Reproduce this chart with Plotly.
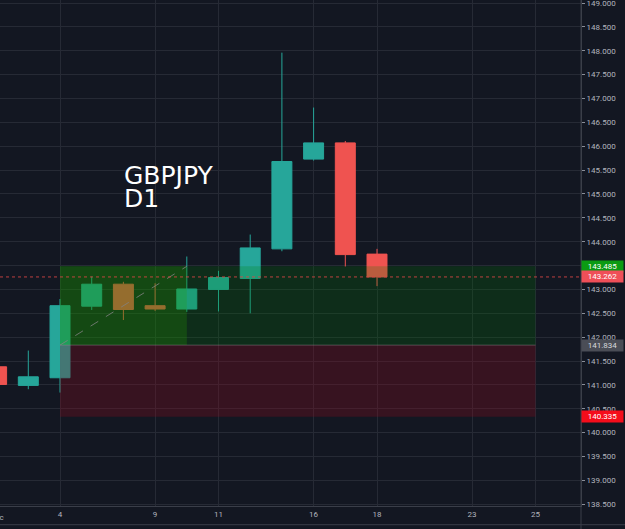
import plotly.graph_objects as go

# ---- data ----
dates = ["2019-12-02", "2019-12-03", "2019-12-04", "2019-12-05", "2019-12-06",
         "2019-12-09", "2019-12-10", "2019-12-11", "2019-12-12", "2019-12-13",
         "2019-12-16", "2019-12-17", "2019-12-18"]
opens = [141.38, 140.99, 141.15, 142.65, 143.11, 142.66, 142.59, 143.00, 143.23, 143.85, 145.73, 146.07, 143.74]
highs = [141.50, 141.72, 142.80, 143.27, 143.16, 143.13, 143.69, 143.39, 144.15, 147.96, 146.81, 146.11, 143.85]
lows = [140.95, 140.91, 140.84, 142.57, 142.36, 142.55, 142.53, 142.54, 142.50, 143.80, 145.70, 143.48, 143.07]
closes = [141.01, 141.17, 142.66, 143.11, 142.58, 142.59, 143.01, 143.25, 143.87, 145.68, 146.07, 143.73, 143.262]

tick_dates = ["2019-12-04", "2019-12-09", "2019-12-11", "2019-12-16",
              "2019-12-18", "2019-12-23", "2019-12-25"]
tick_text = ["4", "9", "11", "16", "18", "23", "25"]
month_label = "Dec"

zone_top = 143.485
zone_mid = 141.834
zone_bottom = 140.335
current_price = 143.262
zone_start = "2019-12-04"
zone_bright_end = "2019-12-10"
zone_end = "2019-12-25"

x_range = ["2019-12-02 02:34", "2019-12-26 10:27"]
y_range = [138.464, 149.063]

BG = "#131722"
GRID = "#262a35"
UP = "#26a69a"
DOWN = "#ef5350"

fig = go.Figure()
fig.add_trace(go.Candlestick(
    x=dates, open=opens, high=highs, low=lows, close=closes,
    increasing=dict(line=dict(color=UP, width=1), fillcolor=UP),
    decreasing=dict(line=dict(color=DOWN, width=1), fillcolor=DOWN),
    showlegend=False, hoverinfo="skip",
))

shapes = [
    # zones
    dict(type="rect", xref="x", yref="y", x0=zone_start, x1=zone_end, y0=zone_mid, y1=zone_top,
         fillcolor="rgba(0,128,0,0.22)", line=dict(width=0), layer="above"),
    dict(type="rect", xref="x", yref="y", x0=zone_start, x1=zone_bright_end, y0=zone_mid, y1=zone_top,
         fillcolor="rgba(40,160,0,0.25)", line=dict(width=0), layer="above"),
    dict(type="rect", xref="x", yref="y", x0=zone_start, x1=zone_end, y0=zone_bottom, y1=zone_mid,
         fillcolor="rgba(140,10,30,0.30)", line=dict(width=0), layer="above"),
    dict(type="line", xref="x", yref="y", x0=zone_start, x1=zone_end, y0=zone_mid, y1=zone_mid,
         line=dict(color="rgba(140,140,140,0.45)", width=1), layer="above"),
    # diagonal dashed
    dict(type="line", xref="x", yref="y", x0=zone_start, x1=zone_bright_end, y0=zone_mid, y1=zone_top,
         line=dict(color="rgba(130,130,130,0.8)", width=1, dash="dash"), layer="above"),
    # current price dotted
    dict(type="line", xref="paper", yref="y", x0=0, x1=1, y0=current_price, y1=current_price,
         line=dict(color="rgba(220,70,70,0.85)", width=1, dash="dot"), layer="above"),
    # frame lines
    dict(type="line", xref="paper", yref="paper", x0=1, x1=1, y0=-0.05, y1=1,
         line=dict(color="#3a3e49", width=1)),
    dict(type="line", xref="paper", yref="paper", x0=0, x1=1.08, y0=-0.037, y1=-0.037,
         line=dict(color="#3a3e49", width=1)),
]

annotations = [
    dict(text="GBPJPY", xref="paper", yref="paper", x=123 / 581, y=1 - 175 / 506,
         xanchor="left", yanchor="middle", showarrow=False, borderpad=0,
         font=dict(family="DejaVu Sans", size=25, color="#ffffff")),
    dict(text="D1", xref="paper", yref="paper", x=123 / 581, y=1 - 199 / 506,
         xanchor="left", yanchor="middle", showarrow=False, borderpad=0,
         font=dict(family="DejaVu Sans", size=25, color="#ffffff")),
    dict(text=month_label, xref="paper", yref="paper", x=-3.4 / 581, y=-11 / 506,
         xanchor="center", yanchor="middle", showarrow=False,
         font=dict(family="Roboto", size=8, color="#b2b5be")),
]

labels = [(zone_top, "#0b9b12", "#ffffff"),
          (current_price, "#ef4f58", "#ffffff"),
          (zone_mid, "#4a4d56", "#d6d8de"),
          (zone_bottom, "#f50d1b", "#ffffff")]
for val, bg, fg in labels:
    annotations.append(dict(
        text="%.3f" % val, xref="paper", yref="y", x=1, y=val,
        xanchor="left", yanchor="middle", showarrow=False,
        bgcolor=bg, width=41, height=11, borderpad=0, align="center",
        font=dict(family="Roboto", size=8, color=fg),
    ))

fig.update_layout(
    width=625, height=529,
    margin=dict(l=0, r=44, t=0, b=23),
    paper_bgcolor=BG, plot_bgcolor=BG,
    shapes=shapes, annotations=annotations,
    boxgap=0.1, boxgroupgap=0.3,
    xaxis=dict(
        type="date", range=x_range,
        rangebreaks=[dict(bounds=["sat", "mon"])],
        rangeslider=dict(visible=False),
        tickvals=tick_dates, ticktext=tick_text,
        showgrid=True, gridcolor=GRID, gridwidth=1,
        zeroline=False, showline=True, linecolor="#3a3e49",
        tickfont=dict(family="Roboto", size=8, color="#b2b5be"),
        ticks="", fixedrange=True,
    ),
    yaxis=dict(
        side="right", range=y_range, dtick=0.5, tick0=138.5, tickformat=".3f",
        showgrid=True, gridcolor=GRID, gridwidth=1,
        zeroline=False, showline=True, linecolor="#3a3e49",
        ticks="outside", ticklen=3, tickcolor="#8a8e99",
        ticklabeloverflow="allow",
        tickfont=dict(family="Roboto", size=8, color="#b2b5be"),
        fixedrange=True,
    ),
    showlegend=False,
)

fig.write_html("out.html", config={"displayModeBar": False})
